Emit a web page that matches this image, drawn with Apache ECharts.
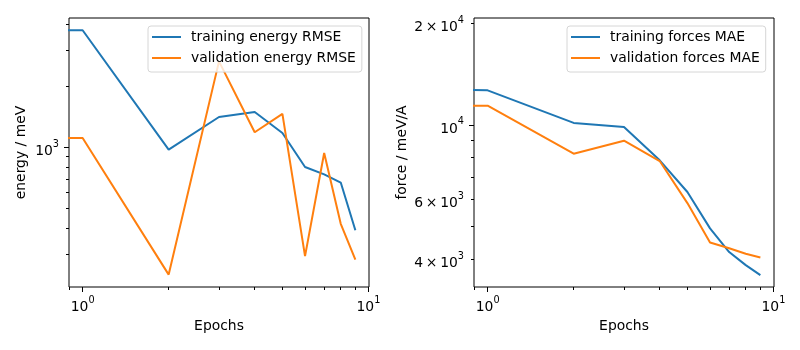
<!DOCTYPE html>
<html>
<head>
<meta charset="utf-8">
<script src="https://cdn.jsdelivr.net/npm/echarts@6/dist/echarts.min.js"></script>
<style>
  html, body { margin: 0; padding: 0; background: #fff; }
  #chart { width: 800px; height: 350px; }
</style>
</head>
<body>
<div id="chart"></div>
<script>
// epoch 0 sits at x = 0, which a log axis can't show: it gets clipped far left like matplotlib does
const epochs = [0, 1, 2, 3, 4, 5, 6, 7, 8, 9];
const trainEnergy = [3760, 3758, 974, 1409, 1490, 1176, 800, 736, 671, 391];
const valEnergy = [1111, 1111, 237, 2642, 1185, 1458, 292, 937, 421, 281];
const trainForces = [19100, 12670, 10140, 9864, 7853, 6324, 4933, 4197, 3838, 3583];
const valForces = [11410, 11410, 8215, 8980, 7816, 5863, 4477, 4305, 4147, 4042];

const xMajor = [1, 10];
const xMinor = [0.9, 2, 3, 4, 5, 6, 7, 8, 9];
const energyMajor = [1000];
const energyMinor = [300, 400, 500, 600, 700, 800, 900, 2000, 3000, 4000];
const forceMajor = [10000];
const forceMinor = [4000, 5000, 6000, 7000, 8000, 9000, 20000];
const forceLabels = [4000, 6000, 10000, 20000];

const FONT = 'DejaVu Sans';
const BLUE = '#1f77b4';
const ORANGE = '#ff7f0e';

function sci(v) {
    let exp = Math.floor(Math.log10(v) + 1e-9);
    let mant = Math.round(v / Math.pow(10, exp));
    let sup = '{s|' + exp + '}';
    if (mant === 1) return '{b|10}' + sup;
    return '{b|' + mant + '\u2009\u00d7\u200910}' + sup;
}

const rich = {
    b: { fontFamily: FONT, fontSize: 13.9, color: '#000', lineHeight: 24 },
    s: { fontFamily: FONT, fontSize: 9.7, color: '#000', lineHeight: 10, verticalAlign: 'top' }
};

function xAxes(gridIndex, min, max) {
    return [
        {
            gridIndex: gridIndex, type: 'log', min: min, max: max, position: 'bottom',
            axisLine: { show: false },
            splitLine: { show: false },
            axisTick: { customValues: xMajor, length: 5, lineStyle: { color: '#000', width: 1 } },
            axisLabel: { customValues: xMajor, formatter: sci, rich: rich, margin: 8 },
            name: 'Epochs', nameLocation: 'middle', nameGap: 32,
            nameTextStyle: { fontFamily: FONT, fontSize: 13.9, color: '#000' }
        },
        {
            gridIndex: gridIndex, type: 'log', min: min, max: max, position: 'bottom', offset: 0,
            axisLine: { show: false },
            splitLine: { show: false },
            axisTick: { customValues: xMinor, length: 3, lineStyle: { color: '#000', width: 1 } },
            axisLabel: { show: false }
        }
    ];
}

function yAxes(gridIndex, min, max, major, minor, labels, name, gap) {
    return [
        {
            gridIndex: gridIndex, type: 'log', min: min, max: max, position: 'left',
            axisLine: { show: false },
            splitLine: { show: false },
            axisTick: { customValues: major, length: 5, lineStyle: { color: '#000', width: 1 } },
            axisLabel: { customValues: labels, formatter: sci, rich: rich, margin: 10, padding: [8, 0, 0, 0] },
            name: name, nameLocation: 'middle', nameGap: gap, nameRotate: 90,
            nameTextStyle: { fontFamily: FONT, fontSize: 13.9, color: '#000' }
        },
        {
            gridIndex: gridIndex, type: 'log', min: min, max: max, position: 'left', offset: 0,
            axisLine: { show: false },
            splitLine: { show: false },
            axisTick: { customValues: minor, length: 3, lineStyle: { color: '#000', width: 1 } },
            axisLabel: { show: false }
        }
    ];
}

function pairs(vals) {
    return epochs.map((e, i) => [Math.max(e, 1e-10), vals[i]]);
}

function line(name, vals, color, axis) {
    return {
        name: name, type: 'line', data: pairs(vals),
        xAxisIndex: axis, yAxisIndex: axis,
        symbol: 'none', clip: true, animation: false,
        lineStyle: { color: color, width: 2 },
        itemStyle: { color: color }
    };
}

function legend(left, names) {
    return {
        orient: 'vertical', left: left, top: 26,
        data: names, icon: 'rect', itemWidth: 29, itemHeight: 2, itemGap: 7,
        padding: [4, 6, 7, 4],
        backgroundColor: 'rgba(255,255,255,0.8)',
        borderColor: '#d6d6d6', borderWidth: 1, borderRadius: 3,
        textStyle: { fontFamily: FONT, fontSize: 13.9, color: '#000', padding: [0, 0, 0, 5] }
    };
}

let myChart = echarts.init(document.getElementById('chart'), null, { renderer: 'canvas' });
let options = {
    backgroundColor: '#fff',
    animation: false,
    grid: [
        { left: 69, top: 18, width: 300, height: 269, show: true, borderColor: '#000', borderWidth: 1, backgroundColor: 'transparent' },
        { left: 474, top: 18, width: 300, height: 269, show: true, borderColor: '#000', borderWidth: 1, backgroundColor: 'transparent' }
    ],
    xAxis: [].concat(xAxes(0, 0.896, 10.045), xAxes(1, 0.896, 10.045)),
    yAxis: [].concat(
        yAxes(0, 206, 4315, energyMajor, energyMinor, energyMajor, 'energy / meV', 41),
        yAxes(1, 3305, 20770, forceMajor, forceMinor, forceLabels, 'force / meV/A', 65)
    ),
    legend: [
        legend(148, ['training energy RMSE', 'validation energy RMSE']),
        legend(567, ['training forces MAE', 'validation forces MAE'])
    ],
    series: [
        line('training energy RMSE', trainEnergy, BLUE, 0),
        line('validation energy RMSE', valEnergy, ORANGE, 0),
        line('training forces MAE', trainForces, BLUE, 2),
        line('validation forces MAE', valForces, ORANGE, 2)
    ]
};
myChart.setOption(options);
</script>
</body>
</html>
